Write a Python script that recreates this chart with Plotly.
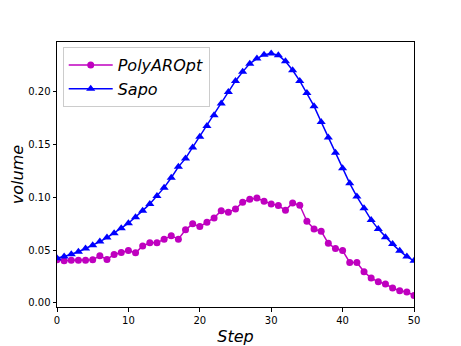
import plotly.graph_objects as go

# ── 資料 ─────────────────────────────────────────────
STEPS = list(range(51))

POLYAROPT = [
    0.041, 0.040, 0.0406, 0.0406, 0.0406, 0.041, 0.0447, 0.0413, 0.046, 0.0478,
    0.0497, 0.0475, 0.054, 0.057, 0.057, 0.0605, 0.0636, 0.0605, 0.0693, 0.075,
    0.0724, 0.0766, 0.0806, 0.0875, 0.086, 0.0891, 0.0955, 0.0983, 0.0995, 0.0964,
    0.0939, 0.0923, 0.0879, 0.0948, 0.0926, 0.0775, 0.070, 0.068, 0.0565, 0.0516,
    0.0497, 0.0384, 0.0384, 0.0296, 0.0236, 0.0201, 0.018, 0.0142, 0.0116, 0.0104,
    0.0072,
]

SAPO = [
    0.0425, 0.044, 0.0463, 0.0485, 0.0516, 0.0548, 0.0582, 0.062, 0.0662, 0.0709,
    0.0756, 0.0813, 0.0875, 0.0939, 0.1014, 0.1093, 0.1187, 0.129, 0.137, 0.1474,
    0.1575, 0.1676, 0.178, 0.189, 0.200, 0.2104, 0.219, 0.2268, 0.2316, 0.2353,
    0.2363, 0.2347, 0.229, 0.2205, 0.2104, 0.199, 0.1865, 0.1716, 0.1569, 0.1423,
    0.1276, 0.1134, 0.1008, 0.0898, 0.0787, 0.070, 0.0624, 0.0558, 0.0494, 0.044,
    0.040,
]

X_TICKS = [0, 10, 20, 30, 40, 50]
Y_TICKS = [0.00, 0.05, 0.10, 0.15, 0.20]

# ── 樣式 ─────────────────────────────────────────────
MAGENTA = "#bf00bf"
BLUE = "#0000ff"
FONT = "DejaVu Sans"

fig = go.Figure()

fig.add_trace(go.Scatter(
    x=STEPS, y=POLYAROPT, name="<i>PolyAROpt</i>",
    mode="lines+markers",
    line=dict(color=MAGENTA, width=1.5),
    marker=dict(symbol="circle", size=7, color=MAGENTA),
))
fig.add_trace(go.Scatter(
    x=STEPS, y=SAPO, name="<i>Sapo</i>",
    mode="lines+markers",
    line=dict(color=BLUE, width=1.5),
    marker=dict(symbol="triangle-up", size=8, color=BLUE),
))

axis_common = dict(
    showline=True, linecolor="black", linewidth=1, mirror=True,
    ticks="outside", ticklen=3.5, tickwidth=1, tickcolor="black",
    showgrid=False, zeroline=False, automargin=False,
    tickfont=dict(family=FONT, size=10, color="black"),
)

# 頁面 body 有 8px 預設邊距，這裡把圖縮小並往左上補回
fig.update_layout(
    width=453, height=338,
    paper_bgcolor="white", plot_bgcolor="white",
    font=dict(family=FONT, color="black"),
    margin=dict(l=49, r=47, t=34, b=39),
    showlegend=True,
    legend=dict(
        x=0.016, y=0.981, xanchor="left", yanchor="top",
        bgcolor="rgba(255,255,255,0.8)",
        bordercolor="#cccccc", borderwidth=1,
        font=dict(family=FONT, size=16, color="black"),
        tracegroupgap=0,
        itemwidth=44,
    ),
    xaxis=dict(
        axis_common,
        range=[0, 50], tickvals=X_TICKS,
        title=dict(text="<i>Step</i>", font=dict(family=FONT, size=16), standoff=6),
    ),
    yaxis=dict(
        axis_common,
        range=[-0.0038, 0.2473], tickvals=Y_TICKS, tickformat=".2f",
        title=dict(text="<i>volume</i>", font=dict(family=FONT, size=16), standoff=4),
    ),
)

fig.write_html("out.html")
